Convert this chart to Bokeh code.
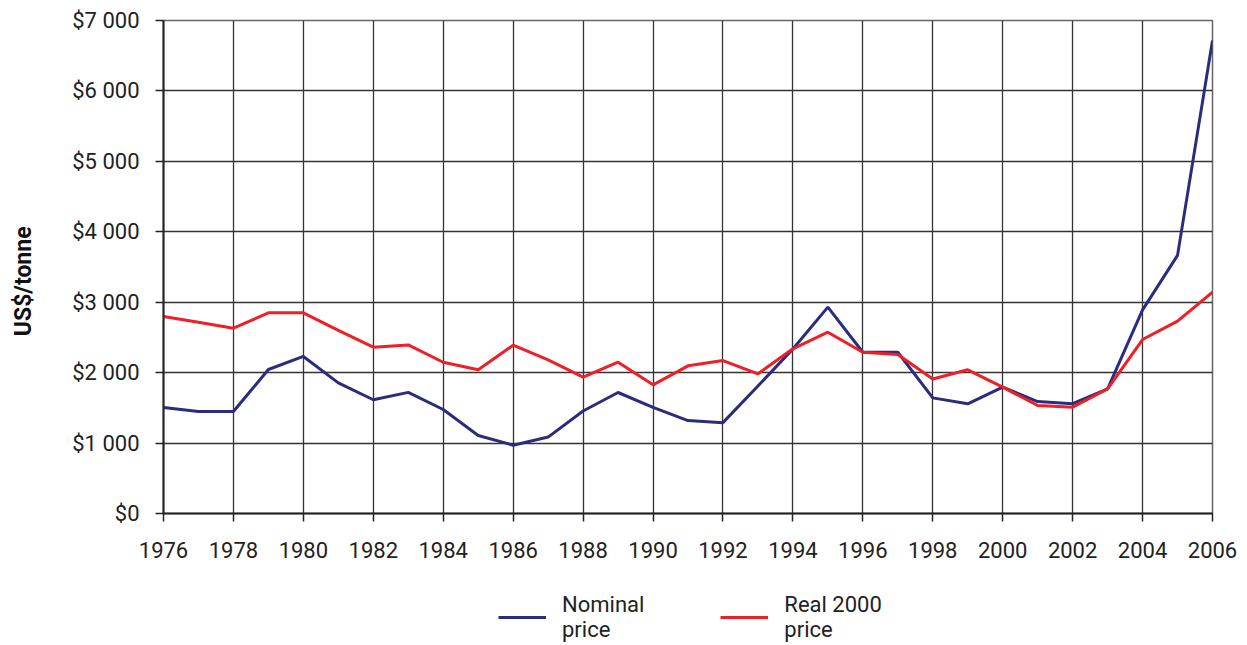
from bokeh.plotting import figure
from bokeh.layouts import column
from bokeh.models import FixedTicker, Range1d, Legend, LegendItem, ColumnDataSource
from bokeh.embed import file_html
from bokeh.resources import INLINE

years = list(range(1976, 2007))
nominal = [1505, 1448, 1448, 2045, 2230, 1855, 1615, 1720, 1477, 1107,
           970, 1085, 1455, 1718, 1508, 1320, 1290, 1810, 2335, 2930,
           2290, 2290, 1642, 1557, 1795, 1590, 1560, 1770, 2892, 3665,
           6716]
real = [2797, 2715, 2631, 2849, 2849, 2600, 2361, 2394, 2148, 2040,
        2390, 2180, 1936, 2148, 1827, 2097, 2172, 1983, 2338, 2574,
        2290, 2258, 1910, 2040, 1794, 1533, 1510, 1770, 2470, 2731,
        3142]
y_ticks = [0, 1000, 2000, 3000, 4000, 5000, 6000, 7000]
y_labels = ["$0", "$1 000", "$2 000", "$3 000", "$4 000", "$5 000", "$6 000", "$7 000"]
x_ticks = list(range(1976, 2007, 2))
series_names = ["Nominal\nprice", "Real 2000\nprice"]
series_colors = ["#2b2c7c", "#ee1f26"]
y_title = "US$/tonne"

FONT = "Roboto"

src = ColumnDataSource(dict(year=years, nominal=nominal, real=real))

p = figure(width=1240, height=578, output_backend="svg", toolbar_location=None,
           x_range=Range1d(1976, 2006), y_range=Range1d(0, 7000),
           min_border_left=163, min_border_right=28, min_border_top=20,
           min_border_bottom=65)

p.line("year", "nominal", source=src, line_color=series_colors[0], line_width=3)
p.line("year", "real", source=src, line_color=series_colors[1], line_width=3)

p.outline_line_color = "#666666"
p.outline_line_width = 1.5

p.xgrid.ticker = FixedTicker(ticks=x_ticks)
p.ygrid.ticker = FixedTicker(ticks=y_ticks)
for g in (p.xgrid, p.ygrid):
    g.grid_line_color = "#333333"
    g.grid_line_width = 1.3
    g.grid_line_alpha = 1.0

p.xaxis.ticker = FixedTicker(ticks=x_ticks)
p.yaxis.ticker = FixedTicker(ticks=y_ticks)
p.yaxis.major_label_overrides = {t: l for t, l in zip(y_ticks, y_labels)}

for ax in (p.xaxis[0], p.yaxis[0]):
    ax.axis_line_color = "#222222"
    ax.axis_line_width = 2
    ax.major_tick_line_color = "#222222"
    ax.major_tick_line_width = 1.5
    ax.major_tick_out = 8
    ax.major_tick_in = 0
    ax.minor_tick_out = 0
    ax.minor_tick_in = 0
    ax.major_label_text_font = FONT
    ax.major_label_text_font_size = "22px"
    ax.major_label_text_color = "#222222"

p.yaxis.major_label_standoff = 16
p.xaxis.major_label_standoff = 20

# trailing no-break spaces push the rotated label slightly downward
p.yaxis.axis_label = y_title + "\u00a0" * 5
p.yaxis.axis_label_text_font = FONT
p.yaxis.axis_label_text_font_style = "bold"
p.yaxis.axis_label_text_font_size = "23px"
p.yaxis.axis_label_text_color = "#111111"
p.yaxis.axis_label_standoff = 32

# legend strip below the chart
lf = figure(width=1240, height=67, output_backend="svg", toolbar_location=None,
            x_range=Range1d(0, 1), y_range=Range1d(0, 1),
            min_border=0, x_axis_type=None, y_axis_type=None)
lf.outline_line_color = None
lf.xgrid.visible = False
lf.ygrid.visible = False
items = []
for name, col, color in zip(series_names, ["nominal", "real"], series_colors):
    r = lf.line("year", col, source=src, line_color=color, line_width=3)
    items.append(LegendItem(label=name, renderers=[r]))

legend = Legend(items=items, orientation="horizontal", location=(335, 3),
                label_text_font=FONT, label_text_font_size="22px",
                label_text_color="#222222", label_text_line_height=1.4,
                glyph_width=48, glyph_height=26, label_standoff=16,
                spacing=76, border_line_color=None, background_fill_alpha=0,
                margin=0, padding=0)
lf.add_layout(legend, "center")

layout = column(p, lf, spacing=0)
open("out.html", "w").write(file_html(layout, INLINE))
